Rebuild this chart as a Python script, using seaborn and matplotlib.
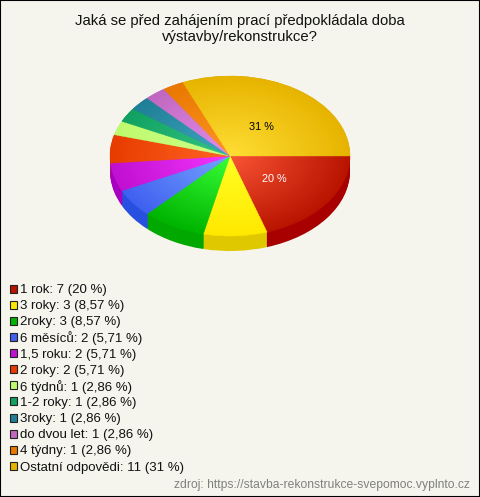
import matplotlib
matplotlib.use("Agg")
import matplotlib.pyplot as plt
from matplotlib.patches import Rectangle
import numpy as np
import seaborn as sns

title = "Jaká se před zahájením prací předpokládala doba\nvýstavby/rekonstrukce?"
source = "zdroj: https://stavba-rekonstrukce-svepomoc.vyplnto.cz"
categories = ["1 rok", "3 roky", "2roky", "6 měsíců", "1,5 roku", "2 roky", "6 týdnů",
              "1-2 roky", "3roky", "do dvou let", "4 týdny", "Ostatní odpovědi"]
counts = [7, 3, 3, 2, 2, 2, 1, 1, 1, 1, 1, 11]
shares = ["20", "8,57", "8,57", "5,71", "5,71", "5,71", "2,86", "2,86", "2,86", "2,86", "2,86", "31"]
# barvy: okraj, stred, bok
edge_cols = ["#B81400", "#FFE800", "#00B400", "#4060F0", "#C010D0", "#E83C00",
             "#BEFA6E", "#10A060", "#1F7F96", "#C068C0", "#E87800", "#E6B400"]
mid_cols = ["#FA5535", "#FFFF25", "#38FF38", "#75A5FF", "#F535FF", "#FF6525",
            "#CCFF88", "#35C585", "#42A5C2", "#E48CEC", "#FF9525", "#FFDE35"]
side_cols = ["#A80000", "#E0C800", "#00A800", "#2850E0", "#A800C0", "#D03000",
             "#A8E060", "#088850", "#106880", "#A850A8", "#D06800", "#D0A000"]

W, H = 480, 497
BG = "#F5F5EE"

sns.set_theme(style="white")
plt.rcParams["font.family"] = ["Liberation Sans", "DejaVu Sans"]

fig = plt.figure(figsize=(W / 100, H / 100), dpi=100, facecolor=BG)
fig.add_artist(Rectangle((0, 0), 1, 1, transform=fig.transFigure, fill=False,
                         edgecolor="black", linewidth=1.5))

# osa presne pres kolac, elipsa vznikne z rozdilneho meritka x a y
depth = 15 / 80
ax = fig.add_axes([110 / W, 1 - 251 / H, 240 / W, 175 / H])
ax.patch.set_alpha(0)

# bok kolace
for off in np.linspace(depth, 0, 16):
    ax.pie(counts, colors=side_cols, startangle=0, counterclock=False, radius=1,
           center=(0, -off), wedgeprops=dict(edgecolor="none", linewidth=0))

# horni plocha s radialnim prechodem
inner = sns.color_palette(mid_cols, len(mid_cols))
outer = sns.color_palette(edge_cols, len(edge_cols))
for r in np.linspace(1, 0.02, 50):
    cols = [tuple(np.array(a) * r + np.array(b) * (1 - r)) for a, b in zip(outer, inner)]
    ax.pie(counts, colors=cols, startangle=0, counterclock=False, radius=r,
           wedgeprops=dict(linewidth=0))
    for w, c in zip(ax.patches[-len(counts):], cols):
        w.set_edgecolor(c)
        w.set_linewidth(0.3)

ax.set_aspect("auto")
ax.set_xlim(-1, 1)
ax.set_ylim(-1 - depth, 1)
ax.axis("off")

fig.text(274 / W, 1 - 179 / H, "20 %", color="white", fontsize=7.8, ha="center", va="center")
fig.text(261 / W, 1 - 127 / H, "31 %", color="black", fontsize=7.8, ha="center", va="center")

fig.text(240 / W, 1 - 14 / H, title, fontsize=10.7, color="#111111", ha="center", va="top", linespacing=1.15)

# legenda po radcich, aby byly rozestupy stejne jako v predloze
for i, (c, n, s) in enumerate(zip(categories, counts, shares)):
    y = 288.5 + i * 16.14
    fig.add_artist(Rectangle((9.5 / W, 1 - (y + 4) / H), 7.5 / W, 8 / H, transform=fig.transFigure,
                             facecolor=edge_cols[i], edgecolor="#222222", linewidth=0.8))
    fig.text(20 / W, 1 - y / H, f"{c}: {n} ({s} %)", fontsize=9.55, color="#111111",
             ha="left", va="center_baseline")

fig.text(470 / W, 1 - 485 / H, source, fontsize=8.75, color="#808080", ha="right", va="center")

fig.savefig("out.png", dpi=100, facecolor=BG)
